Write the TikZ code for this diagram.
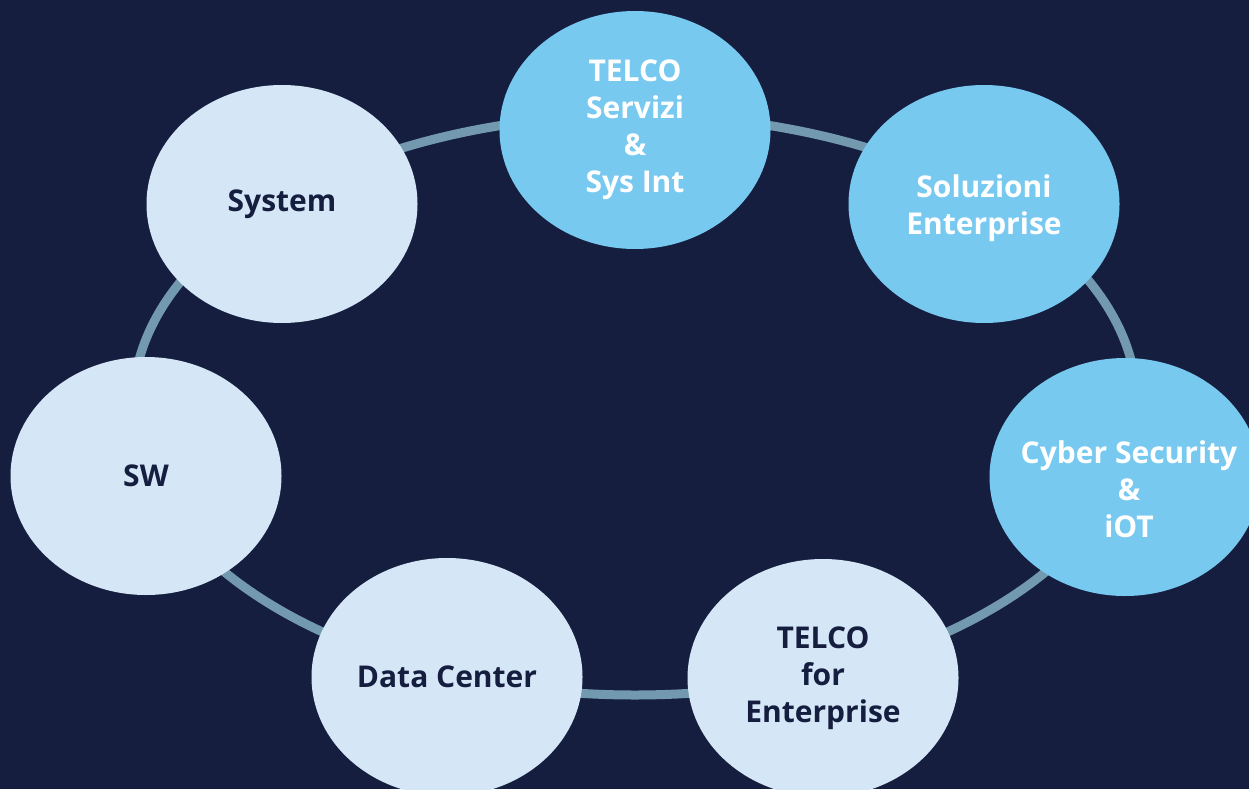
\documentclass[tikz,border=0pt]{standalone}
\usepackage{fontspec}
\setmainfont{Open Sans}
\usetikzlibrary{shapes.geometric}
\definecolor{navy}{HTML}{161E3F}
\definecolor{skyfill}{HTML}{77C9F0}
\definecolor{palefill}{HTML}{D5E7F7}
\definecolor{ringcol}{HTML}{7399AE}
\tikzset{
  bubblefont/.style={align=center, font=\fontsize{30}{37}\selectfont\bfseries},
  bubble/.style={ellipse, minimum width=271pt, minimum height=238pt, inner sep=0pt, bubblefont},
  hot/.style={bubble, fill=skyfill, text=white},
  cool/.style={bubble, fill=palefill, text=navy},
  hottext/.style={bubblefont, text=white, inner sep=0pt}
}
\begin{document}
\begin{tikzpicture}[x=1pt,y=-1pt]
\useasboundingbox (0,0) rectangle (1249,789);
\clip (0,0) rectangle (1249,789);
\fill[navy] (0,0) rectangle (1249,789);

% ring behind the bubbles
\draw[ringcol, line width=9pt] (635,405) ellipse [x radius=502, y radius=290];

\node[hot] (tel) at (635,130) {TELCO\\Servizi\\\&\\Sys Int};
\node[hot, label={[hottext, yshift=-4pt]center:{Soluzioni\\Enterprise}}] (sol) at (984,204) {};
\node[hot, label={[hottext, xshift=4pt, yshift=-12pt]center:{Cyber Security\\\&\\iOT}}] (cyb) at (1125,477) {};
\node[cool] (tfe) at (823,678) {TELCO\\for\\Enterprise};
\node[cool] (dc) at (447,677) {Data Center};
\node[cool] (sw) at (146,476) {SW};
\node[cool] (sys) at (282,204) {System};

\end{tikzpicture}
\end{document}
